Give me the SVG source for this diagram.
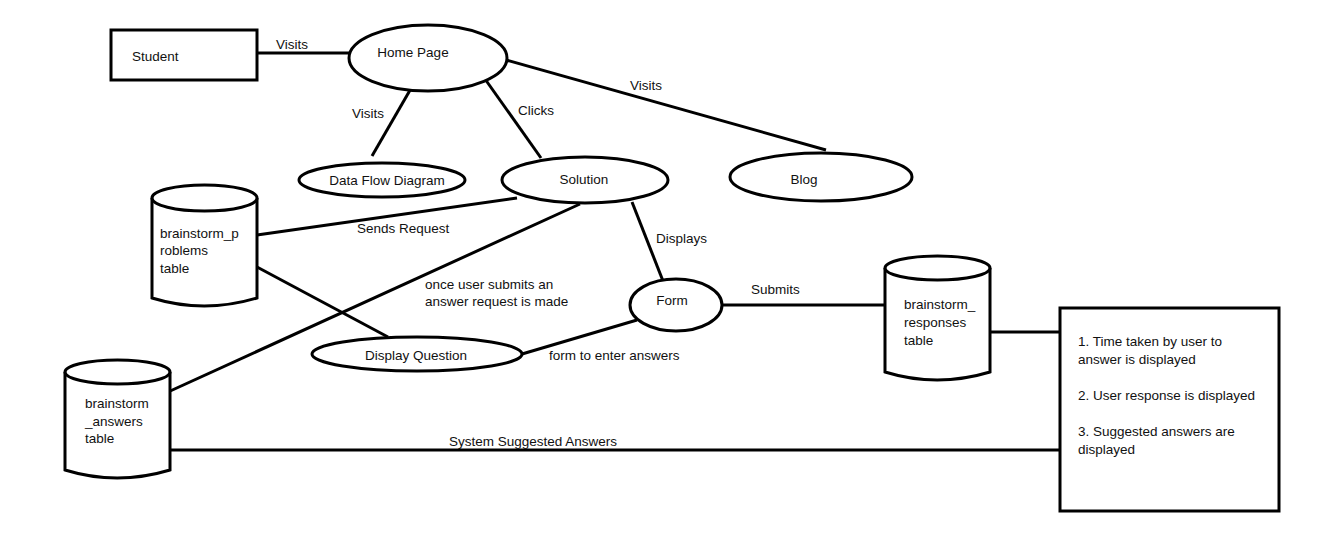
<svg xmlns="http://www.w3.org/2000/svg" width="1334" height="543" viewBox="0 0 1334 543">
<style>
.s{fill:#fff;stroke:#000;stroke-width:3}
.c line{stroke:#000;stroke-width:3}
text{font-family:"Liberation Sans",Arial,sans-serif;font-size:13.5px;fill:#111}
.m{text-anchor:middle}
</style>
<rect width="1334" height="543" fill="#fff"/>
<g class="c" id="connectors">
<line x1="257" y1="53" x2="350" y2="53"/>
<line x1="413" y1="85" x2="372" y2="156"/>
<line x1="485" y1="79" x2="541" y2="158"/>
<line x1="506" y1="60" x2="826" y2="150"/>
<line x1="257" y1="235" x2="517" y2="198"/>
<line x1="257" y1="267" x2="388" y2="337"/>
<line x1="168" y1="392" x2="580" y2="204"/>
<line x1="632" y1="202" x2="663" y2="281"/>
<line x1="723" y1="305" x2="885" y2="305"/>
<line x1="522" y1="354" x2="637" y2="320"/>
<line x1="990" y1="332" x2="1060" y2="332"/>
<line x1="170" y1="450" x2="1060" y2="450"/>
<text x="276" y="49">Visits</text>
<text x="352" y="118">Visits</text>
<text x="518" y="115">Clicks</text>
<text x="630" y="90">Visits</text>
<text x="357" y="233">Sends Request</text>
<text x="425" y="289">once user submits an</text>
<text x="425" y="306">answer request is made</text>
<text x="656" y="243">Displays</text>
<text x="751" y="294">Submits</text>
<text x="549" y="360">form to enter answers</text>
<text x="449" y="446">System Suggested Answers</text>
</g>
<g id="student"><rect class="s" x="111" y="30" width="146" height="50"/><text x="132" y="61">Student</text></g>
<g id="home"><ellipse class="s" cx="428" cy="58" rx="79" ry="33"/><text class="m" x="413" y="57">Home Page</text></g>
<g id="dfd"><ellipse class="s" cx="382" cy="180" rx="83" ry="17"/><text class="m" x="387" y="185">Data Flow Diagram</text></g>
<g id="solution"><ellipse class="s" cx="585" cy="180" rx="83" ry="23"/><text class="m" x="584" y="184">Solution</text></g>
<g id="blog"><ellipse class="s" cx="821" cy="177" rx="91" ry="24"/><text class="m" x="804" y="184">Blog</text></g>
<g id="problems">
<path class="s" d="M152,198 L152,298 Q204,314 257,298 L257,198"/>
<ellipse class="s" cx="204.5" cy="198" rx="52.5" ry="13"/>
<text x="160" y="238">brainstorm_p</text><text x="160" y="255">roblems</text><text x="160" y="273">table</text>
</g>
<g id="answers">
<path class="s" d="M65,372 L65,470 Q117,486 170,470 L170,372"/>
<ellipse class="s" cx="117.5" cy="372" rx="52.5" ry="12"/>
<text x="85" y="408">brainstorm</text><text x="85" y="426">_answers</text><text x="85" y="443">table</text>
</g>
<g id="responses">
<path class="s" d="M885,268 L885,372 Q937,388 990,372 L990,268"/>
<ellipse class="s" cx="937.5" cy="268" rx="52.5" ry="12"/>
<text x="904" y="309">brainstorm_</text><text x="904" y="327">responses</text><text x="904" y="345">table</text>
</g>
<g id="form"><ellipse class="s" cx="676" cy="305" rx="46" ry="26"/><text class="m" x="672" y="305">Form</text></g>
<g id="display"><ellipse class="s" cx="417" cy="354" rx="105" ry="17"/><text class="m" x="416" y="360">Display Question</text></g>
<g id="output">
<rect class="s" x="1060" y="308" width="219" height="203"/>
<text x="1078" y="346">1. Time taken by user to</text>
<text x="1078" y="364">answer is displayed</text>
<text x="1078" y="400">2. User response is displayed</text>
<text x="1078" y="436">3. Suggested answers are</text>
<text x="1078" y="454">displayed</text>
</g>
</svg>
